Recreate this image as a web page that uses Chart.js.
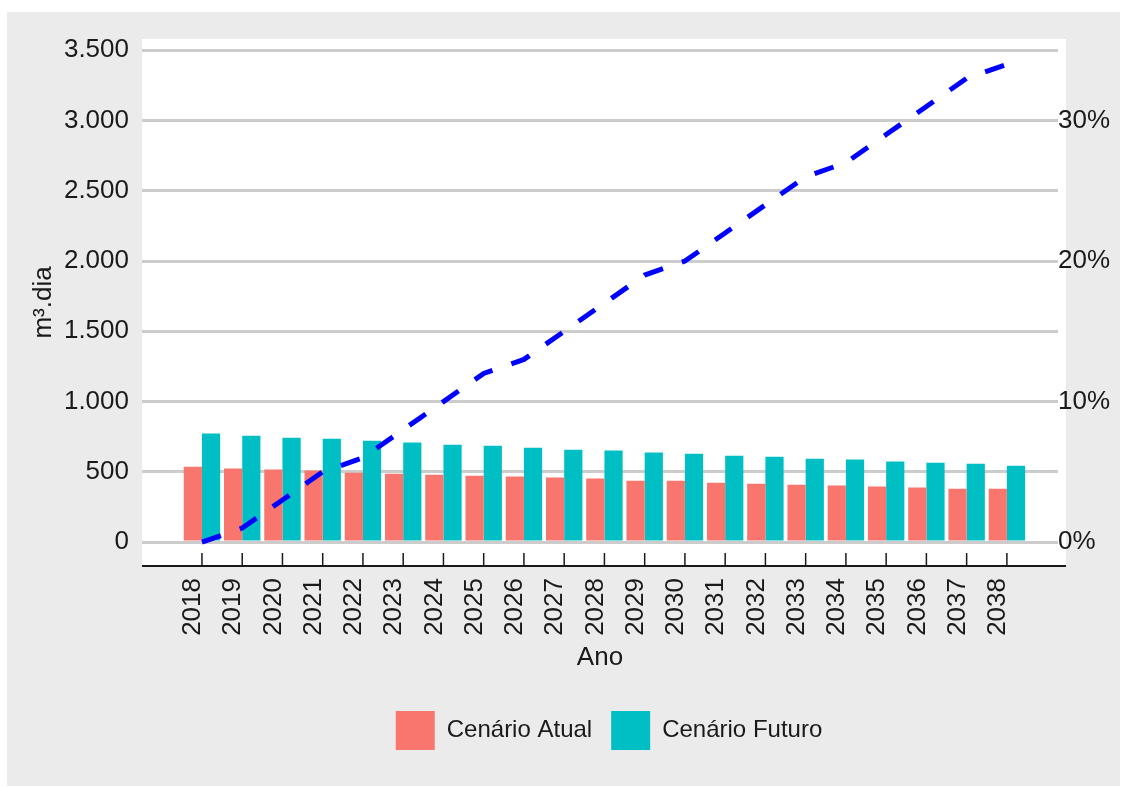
<!DOCTYPE html>
<html lang="pt-BR">
<head>
<meta charset="utf-8">
<title>Cenário Atual x Cenário Futuro</title>
<script src="https://cdn.jsdelivr.net/npm/chart.js@4.4.1/dist/chart.umd.min.js"></script>
<style>
  html, body { margin: 0; padding: 0; background: #fff; }
  #wrap { width: 1126px; height: 787px; }
</style>
</head>
<body>
<div id="wrap"><canvas id="chart" width="1126" height="787"></canvas></div>
<script>
// ==============================
//  DATA
// ==============================
const YEARS = [2018, 2019, 2020, 2021, 2022, 2023, 2024, 2025, 2026, 2027, 2028,
               2029, 2030, 2031, 2032, 2033, 2034, 2035, 2036, 2037, 2038];

// m³.dia
const ATUAL  = [537, 523, 516, 509, 494, 487, 480, 473, 466, 459, 452,
                437, 437, 423, 416, 409, 402, 395, 388, 380, 380];
const FUTURO = [772, 757, 743, 736, 722, 708, 693, 686, 672, 658, 651,
                637, 629, 615, 608, 594, 587, 573, 565, 558, 544];

// % (eixo da direita)
const PERCENT = [0, 1, 3, 5, 6, 8, 10, 12, 13, 15, 17,
                 19, 20, 22, 24, 26, 27, 29, 31, 33, 34];

const Y_TICKS       = [0, 500, 1000, 1500, 2000, 2500, 3000, 3500];
const Y_TICK_LABELS = ['0', '500', '1.000', '1.500', '2.000', '2.500', '3.000', '3.500'];
const PCT_TICKS     = [0, 10, 20, 30];
const PCT_LABELS    = ['0%', '10%', '20%', '30%'];

const TXT = '#1a1a1a';
const FONT = "'Liberation Sans', Arial, Helvetica, sans-serif";

// ==============================
//  PLUGINS
// ==============================
const panelBg = {
  id: 'panelBg',
  beforeDraw(chart) {
    const { ctx, chartArea: a } = chart;
    ctx.save();
    ctx.fillStyle = '#ffffff';
    ctx.fillRect(0, 0, chart.width, chart.height);
    ctx.fillStyle = '#EBEBEB';
    ctx.fillRect(7, 12, 1113, 774);
    // the white panel runs a little under the right-hand labels
    ctx.fillStyle = '#ffffff';
    ctx.fillRect(a.left, a.top, a.right - a.left + 8, a.bottom - a.top);
    ctx.restore();
  }
};

// axis line + ticks drawn upwards from it, as in the original
const innerTicks = {
  id: 'innerTicks',
  afterDraw(chart) {
    const sx = chart.scales.x, ctx = chart.ctx, a = chart.chartArea;
    ctx.save();
    ctx.strokeStyle = TXT;
    ctx.lineWidth = 2;
    ctx.beginPath();
    ctx.moveTo(a.left, a.bottom);
    ctx.lineTo(a.right + 8, a.bottom);
    ctx.stroke();
    ctx.lineWidth = 1.5;
    sx.ticks.forEach(t => {
      const px = sx.getPixelForValue(t.value);
      ctx.beginPath();
      ctx.moveTo(px, a.bottom - 13);
      ctx.lineTo(px, a.bottom);
      ctx.stroke();
    });
    ctx.restore();
  }
};

// legend sits slightly right of the plot centre in the original
const legendShift = {
  id: 'legendShift',
  afterLayout(chart) {
    if (!chart.legend) return;
    chart.legend.left += 9;
    chart.legend.right += 9;
  }
};

// ==============================
//  CHART
// ==============================
Chart.defaults.font.family = FONT;
Chart.defaults.color = TXT;

new Chart(document.getElementById('chart').getContext('2d'), {
  type: 'bar',
  data: {
    labels: YEARS,
    datasets: [
      {
        label: 'Cenário Atual',
        data: ATUAL,
        backgroundColor: '#F8766D',
        borderWidth: 0,
        categoryPercentage: 0.905,
        barPercentage: 1.0,
        yAxisID: 'y',
        order: 1
      },
      {
        label: 'Cenário Futuro',
        data: FUTURO,
        backgroundColor: '#00BFC4',
        borderWidth: 0,
        categoryPercentage: 0.905,
        barPercentage: 1.0,
        yAxisID: 'y',
        order: 1
      },
      {
        type: 'line',
        label: 'Percentual',
        data: PERCENT,
        borderColor: '#0000FF',
        backgroundColor: '#0000FF',
        borderWidth: 5,
        borderDash: [20, 20],
        borderCapStyle: 'butt',
        pointRadius: 0,
        tension: 0,
        fill: false,
        yAxisID: 'y1',
        order: 0
      }
    ]
  },
  options: {
    responsive: false,
    animation: false,
    devicePixelRatio: 1,
    layout: { padding: { left: 7, right: 0, top: 39, bottom: 27 } },
    plugins: {
      tooltip: { enabled: false },
      legend: {
        position: 'bottom',
        fullSize: false,
        labels: {
          boxWidth: 39,
          boxHeight: 39,
          padding: 19,
          color: TXT,
          font: { size: 24 },
          filter: item => item.datasetIndex !== 2
        }
      }
    },
    scales: {
      x: {
        type: 'linear',
        min: 2016.51,
        max: 2039.27,
        offset: false,
        afterBuildTicks: s => { s.ticks = YEARS.map(v => ({ value: v })); },
        afterFit: s => { s.height = 126; },
        grid: { display: false, offset: false, drawTicks: false },
        border: { display: false },
        ticks: {
          autoSkip: false,
          minRotation: 90,
          maxRotation: 90,
          padding: 12,
          labelOffset: -9,
          color: TXT,
          font: { size: 26 },
          callback: v => String(v)
        },
        title: {
          display: true,
          text: 'Ano',
          color: TXT,
          font: { size: 26 },
          padding: { top: 0, bottom: 19 }
        }
      },
      y: {
        position: 'left',
        min: -170,
        max: 3580,
        afterBuildTicks: s => { s.ticks = Y_TICKS.map(v => ({ value: v })); },
        afterFit: s => { s.width = 135; },
        grid: { color: '#CCCCCC', lineWidth: 3, drawTicks: false },
        border: { display: false },
        ticks: {
          padding: 13,
          color: TXT,
          font: { size: 26 },
          callback: (v, i) => Y_TICK_LABELS[i]
        },
        title: {
          display: true,
          text: 'm³.dia',
          color: TXT,
          font: { size: 26 },
          padding: { top: 21, bottom: 0 }
        }
      },
      y1: {
        position: 'right',
        z: 1,
        min: -1.7,
        max: 35.8,
        afterBuildTicks: s => { s.ticks = PCT_TICKS.map(v => ({ value: v })); },
        afterFit: s => { s.width = 68; },
        grid: { display: false, drawTicks: false },
        border: { display: false },
        ticks: {
          padding: 0,
          color: TXT,
          font: { size: 26 },
          callback: (v, i) => PCT_LABELS[i]
        }
      }
    }
  },
  plugins: [panelBg, innerTicks, legendShift]
});
</script>
</body>
</html>
